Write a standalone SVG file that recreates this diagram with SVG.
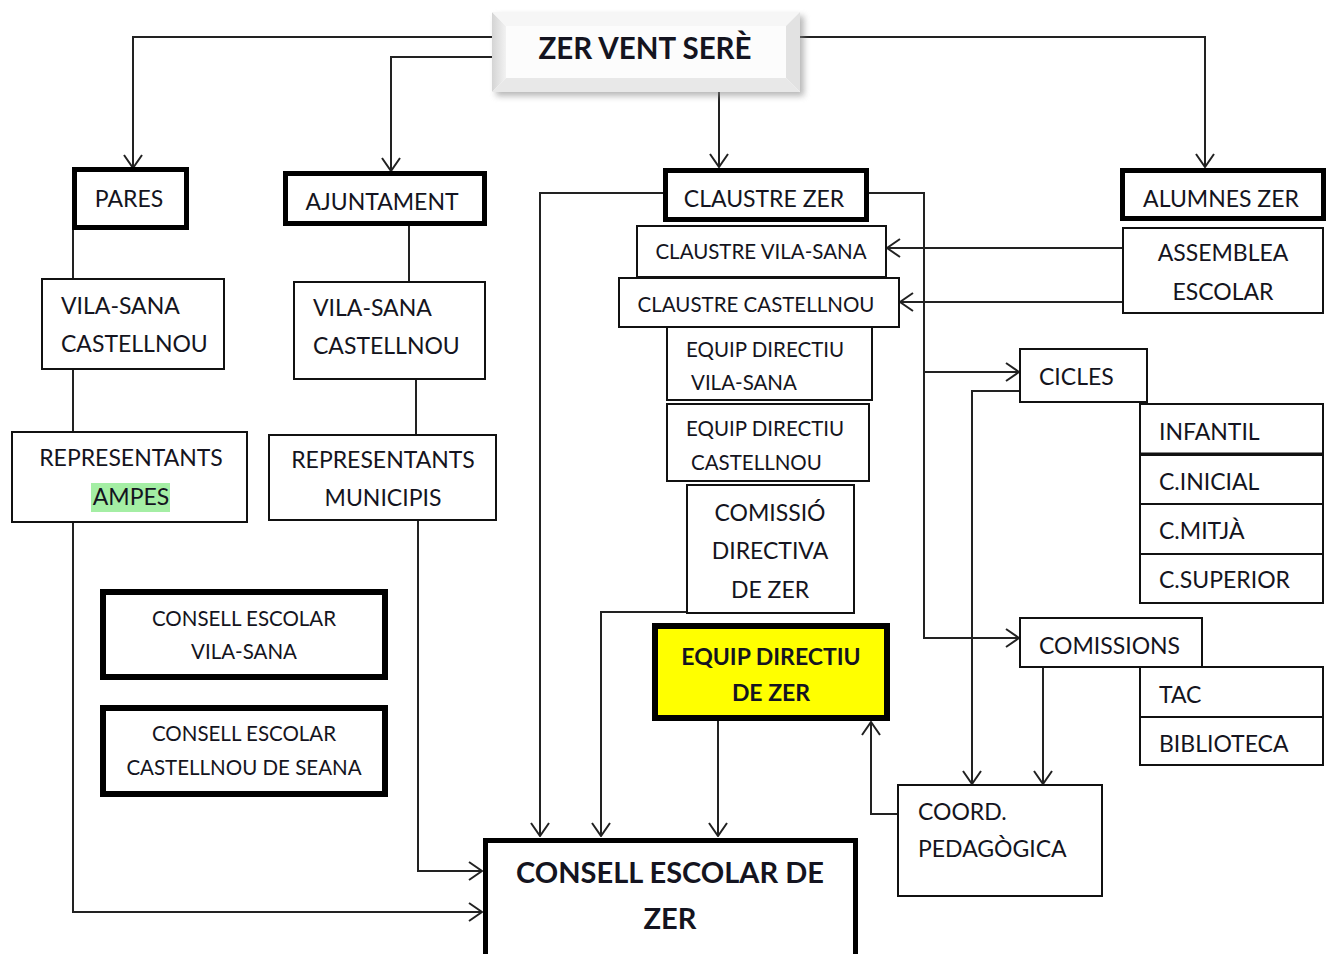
<svg xmlns="http://www.w3.org/2000/svg" width="1330" height="954" viewBox="0 0 1330 954">
<style>
.b{fill:#fff;stroke:#111;stroke-width:2}
.t5{fill:#fff;stroke:#000;stroke-width:5}
.t6{fill:#fff;stroke:#000;stroke-width:6}
.c{fill:none;stroke:#222;stroke-width:2}
text{font-family:Lato,"Open Sans","Liberation Sans",sans-serif;fill:#141420;font-size:23px}
.s{font-size:20.5px}
.m{text-anchor:middle}
.bd{font-weight:bold}
</style>
<defs>
<marker id="a" viewBox="0 0 15 20" refX="14" refY="10" markerWidth="15" markerHeight="20" orient="auto" markerUnits="userSpaceOnUse">
<path d="M1,1 L14,10 L1,19" fill="none" stroke="#222" stroke-width="2"/>
</marker>
<filter id="sh" x="-10%" y="-20%" width="130%" height="150%"><feGaussianBlur stdDeviation="3"/></filter>
<linearGradient id="gl" x1="0" y1="0" x2="1" y2="0"><stop offset="0" stop-color="#d4d4d4"/><stop offset="1" stop-color="#f2f2f2"/></linearGradient>
</defs>

<g id="connectors">
<path class="c" d="M492,37 H133 V168" marker-end="url(#a)"/>
<path class="c" d="M492,57 H391 V171" marker-end="url(#a)"/>
<path class="c" d="M719,92 V167" marker-end="url(#a)"/>
<path class="c" d="M800,37 H1205 V167" marker-end="url(#a)"/>
<path class="c" d="M73,229 V279"/>
<path class="c" d="M73,369 V432"/>
<path class="c" d="M409,226 V282"/>
<path class="c" d="M416,379 V435"/>
<path class="c" d="M73,522 V912 H482" marker-end="url(#a)"/>
<path class="c" d="M418,520 V871 H482" marker-end="url(#a)"/>
<path class="c" d="M663,193 H540 V836" marker-end="url(#a)"/>
<path class="c" d="M687,612 H601 V836" marker-end="url(#a)"/>
<path class="c" d="M718,721 V836" marker-end="url(#a)"/>
<path class="c" d="M869,193 H924 V638 H1019" marker-end="url(#a)"/>
<path class="c" d="M924,372 H1019" marker-end="url(#a)"/>
<path class="c" d="M1123,248 H887" marker-end="url(#a)"/>
<path class="c" d="M1123,302 H900" marker-end="url(#a)"/>
<path class="c" d="M1020,391 H972 V784" marker-end="url(#a)"/>
<path class="c" d="M1043,667 V784" marker-end="url(#a)"/>
<path class="c" d="M898,814 H871 V722" marker-end="url(#a)"/>
</g>

<g id="zer-vent-sere">
<rect x="496" y="16" width="308" height="80" fill="#888" opacity="0.6" filter="url(#sh)"/>
<rect x="492" y="12" width="308" height="80" fill="#fff"/>
<polygon points="492,12 506,26 506,78 492,92" fill="url(#gl)"/>
<polygon points="492,12 800,12 786,26 506,26" fill="#f6f6f6"/>
<polygon points="800,12 800,92 786,78 786,26" fill="#e2e2e2"/>
<polygon points="492,92 506,78 786,78 800,92" fill="#e8e8e8"/>
<rect x="506" y="26" width="280" height="52" fill="#fcfcfc"/>
<text class="m bd" x="645" y="59" style="font-size:29.5px">ZER VENT SERÈ</text>
</g>

<g id="pares"><rect class="t5" x="74.5" y="169.5" width="112" height="58"/><text class="m" x="129" y="207">PARES</text></g>
<g id="ajuntament"><rect class="t5" x="285.5" y="173.5" width="199" height="50"/><text class="m" x="382" y="210">AJUNTAMENT</text></g>
<g id="vila-sana-castellnou-1"><rect class="b" x="42" y="279" width="182" height="90"/><text x="61" y="314">VILA-SANA</text><text x="61" y="352">CASTELLNOU</text></g>
<g id="representants-ampes"><rect class="b" x="12" y="432" width="235" height="90"/><text class="m" x="131" y="466">REPRESENTANTS</text><rect x="91" y="483" width="79" height="29" fill="#a4eea4"/><text class="m" x="131" y="505">AMPES</text></g>
<g id="vila-sana-castellnou-2"><rect class="b" x="294" y="282" width="191" height="97"/><text x="313" y="316">VILA-SANA</text><text x="313" y="354">CASTELLNOU</text></g>
<g id="representants-municipis"><rect class="b" x="269" y="435" width="227" height="85"/><text class="m" x="383" y="468">REPRESENTANTS</text><text class="m" x="383" y="506">MUNICIPIS</text></g>
<g id="consell-vila-sana"><rect class="t6" x="103" y="592" width="282" height="85"/><text class="m s" x="244" y="626">CONSELL ESCOLAR</text><text class="m s" x="244" y="659">VILA-SANA</text></g>
<g id="consell-castellnou"><rect class="t6" x="103" y="708" width="282" height="86"/><text class="m s" x="244" y="741">CONSELL ESCOLAR</text><text class="m s" x="244" y="775">CASTELLNOU DE SEANA</text></g>
<g id="consell-zer"><rect class="t5" x="485.5" y="840.5" width="370" height="130"/><text class="m bd" x="670" y="883" style="font-size:29px">CONSELL ESCOLAR DE</text><text class="m bd" x="670" y="929" style="font-size:29px">ZER</text></g>
<g id="claustre-zer"><rect class="t5" x="665.5" y="170.5" width="201" height="49"/><text class="m" x="764" y="207">CLAUSTRE ZER</text></g>
<g id="claustre-vila-sana"><rect class="b" x="637" y="226" width="249" height="51"/><text class="m s" x="761" y="259">CLAUSTRE VILA-SANA</text></g>
<g id="claustre-castellnou"><rect class="b" x="619" y="278" width="280" height="49"/><text class="m s" x="756" y="312">CLAUSTRE CASTELLNOU</text></g>
<g id="equip-vila-sana"><rect class="b" x="667" y="327" width="205" height="73"/><text class="s" x="686" y="357">EQUIP DIRECTIU</text><text class="s" x="691" y="390">VILA-SANA</text></g>
<g id="equip-castellnou"><rect class="b" x="667" y="404" width="202" height="77"/><text class="s" x="686" y="436">EQUIP DIRECTIU</text><text class="s" x="691" y="470">CASTELLNOU</text></g>
<g id="comissio-directiva"><rect class="b" x="687" y="485" width="167" height="128"/><text class="m" x="770" y="521">COMISSIÓ</text><text class="m" x="770" y="559">DIRECTIVA</text><text class="m" x="770" y="598">DE ZER</text></g>
<g id="equip-directiu-zer"><rect x="655" y="626" width="232" height="92" fill="#ffff00" stroke="#000" stroke-width="6"/><text class="m bd" x="771" y="665">EQUIP DIRECTIU</text><text class="m bd" x="771" y="701">DE ZER</text></g>
<g id="alumnes-zer"><rect class="t5" x="1122.5" y="170.5" width="201" height="48"/><text class="m" x="1221" y="207">ALUMNES ZER</text></g>
<g id="assemblea-escolar"><rect class="b" x="1123" y="228" width="200" height="85"/><text class="m" x="1223" y="261">ASSEMBLEA</text><text class="m" x="1223" y="300">ESCOLAR</text></g>
<g id="cicles"><rect class="b" x="1020" y="349" width="127" height="53"/><text x="1039" y="385">CICLES</text></g>
<g id="infantil"><rect class="b" x="1140" y="404" width="183" height="50"/><line x1="1140" y1="454" x2="1323" y2="454" stroke="#111" stroke-width="3"/><text x="1159" y="440">INFANTIL</text></g>
<g id="c-inicial"><rect class="b" x="1140" y="455" width="183" height="49"/><text x="1159" y="490">C.INICIAL</text></g>
<g id="c-mitja"><rect class="b" x="1140" y="504" width="183" height="50"/><text x="1159" y="539">C.MITJÀ</text></g>
<g id="c-superior"><rect class="b" x="1140" y="554" width="183" height="49"/><text x="1159" y="588">C.SUPERIOR</text></g>
<g id="comissions"><rect class="b" x="1020" y="618" width="182" height="49"/><text x="1039" y="654">COMISSIONS</text></g>
<g id="tac"><rect class="b" x="1140" y="667" width="183" height="50"/><text x="1159" y="703">TAC</text></g>
<g id="biblioteca"><rect class="b" x="1140" y="717" width="183" height="48"/><text x="1159" y="752">BIBLIOTECA</text></g>
<g id="coord-pedagogica"><rect class="b" x="898" y="785" width="204" height="111"/><text x="918" y="820">COORD.</text><text x="918" y="857">PEDAGÒGICA</text></g>
</svg>
